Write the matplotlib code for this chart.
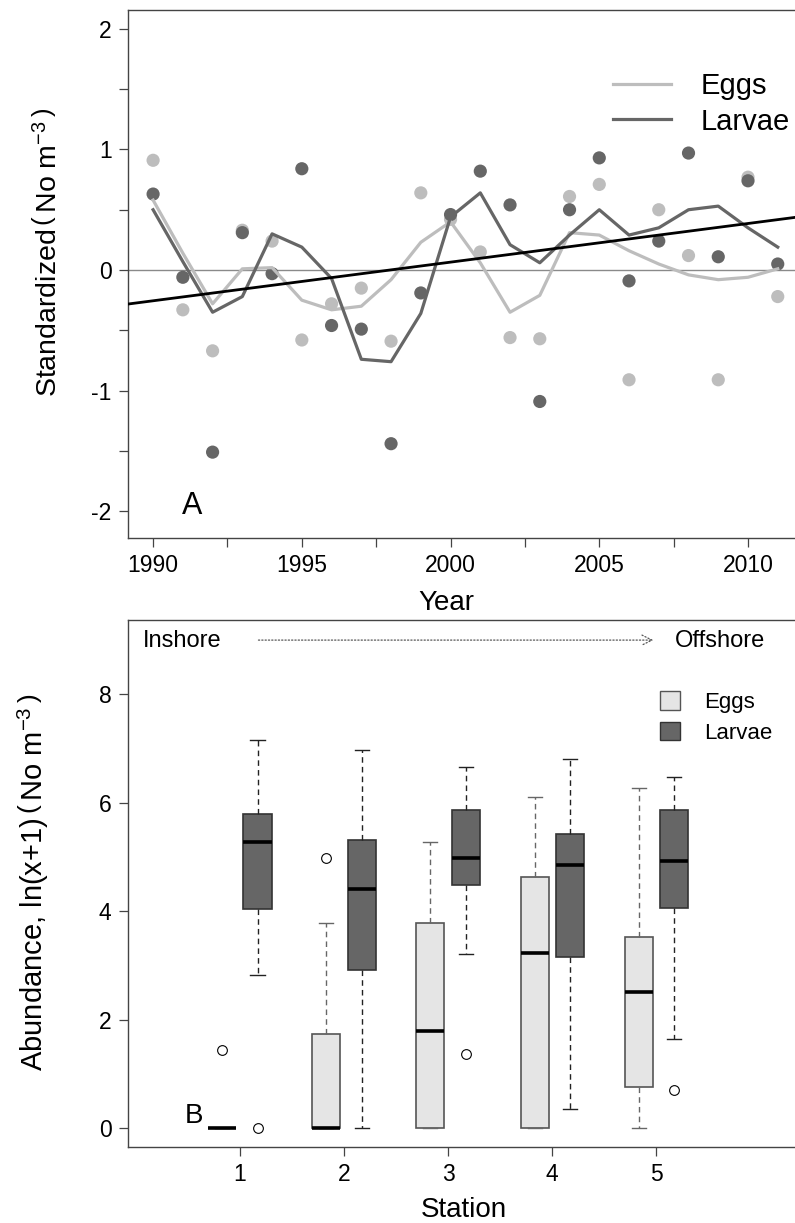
import matplotlib
matplotlib.use('Agg')
import matplotlib.pyplot as plt
from matplotlib.patches import Patch
from matplotlib.lines import Line2D

plt.rcParams['font.family'] = ['Liberation Sans', 'DejaVu Sans']
plt.rcParams['mathtext.fontset'] = 'custom'
plt.rcParams['mathtext.rm'] = 'Liberation Sans'
plt.rcParams['mathtext.it'] = 'Liberation Sans:italic'
plt.rcParams['axes.unicode_minus'] = False

# Panel A: standardized abundance per year
years = list(range(1990, 2012))
eggs_pts = [0.91, -0.33, -0.67, 0.33, 0.24, -0.58, -0.28, -0.15, -0.59, 0.64, 0.42,
            0.15, -0.56, -0.57, 0.61, 0.71, -0.91, 0.50, 0.12, -0.91, 0.77, -0.22]
larvae_pts = [0.63, -0.06, -1.51, 0.31, -0.03, 0.84, -0.46, -0.49, -1.44, -0.19, 0.46,
              0.82, 0.54, -1.09, 0.50, 0.93, -0.09, 0.24, 0.97, 0.11, 0.74, 0.05]
eggs_smooth = [0.58, 0.14, -0.28, 0.01, 0.02, -0.25, -0.33, -0.30, -0.08, 0.23, 0.40,
               0.06, -0.35, -0.21, 0.31, 0.29, 0.16, 0.05, -0.04, -0.08, -0.06, 0.01]
larvae_smooth = [0.50, 0.07, -0.35, -0.22, 0.30, 0.19, -0.07, -0.74, -0.76, -0.36, 0.44,
                 0.64, 0.21, 0.06, 0.29, 0.50, 0.29, 0.35, 0.50, 0.53, 0.35, 0.19]
trend_years = [1989, 2012]
trend_vals = [-0.287, 0.450]

# Panel B: boxplot stats per station
stations = [1, 2, 3, 4, 5]
eggs_med = [0, 0, 1.79, 3.24, 2.51]
eggs_q1 = [0, 0, 0, 0, 0.76]
eggs_q3 = [0, 1.73, 3.78, 4.64, 3.52]
eggs_lo = [0, 0, 0, 0, 0]
eggs_hi = [0, 3.78, 5.28, 6.10, 6.28]
eggs_out = [[1.45], [4.98], [], [], []]
larvae_med = [5.27, 4.41, 4.99, 4.85, 4.93]
larvae_q1 = [4.04, 2.91, 4.49, 3.15, 4.06]
larvae_q3 = [5.79, 5.32, 5.86, 5.43, 5.87]
larvae_lo = [2.83, 0.0, 3.22, 0.35, 1.65]
larvae_hi = [7.16, 6.97, 6.66, 6.80, 6.48]
larvae_out = [[0.0], [], [1.37], [], [0.70]]

light = '#bdbdbd'
dark = '#666666'
axcol = '#444444'

fig = plt.figure(figsize=(7.95, 12.23), dpi=100)
axA = fig.add_axes([0.1604, 0.5598, 0.8396, 0.4320])
axB = fig.add_axes([0.1604, 0.0619, 0.8396, 0.4311])


def style_axes(ax):
    ax.spines['right'].set_visible(False)
    for s in ['left', 'bottom', 'top']:
        ax.spines[s].set_color(axcol)
        ax.spines[s].set_linewidth(1.0)
    ax.tick_params(which='both', length=6.5, width=0.9, color=axcol,
                   labelsize=16.5, pad=5)


# ---- Panel A ----
axA.axhline(0, color='#8a8a8a', lw=1.0, zorder=1)
axA.scatter(years, eggs_pts, s=90, color=light, edgecolors='none', zorder=2)
axA.scatter(years, larvae_pts, s=90, color=dark, edgecolors='none', zorder=2)
axA.plot(years, eggs_smooth, color=light, lw=2.3, zorder=3)
axA.plot(years, larvae_smooth, color=dark, lw=2.3, zorder=3)
axA.plot(trend_years, trend_vals, color='black', lw=2.0, zorder=4)

axA.set_xlim(1989.14, 2011.58)
axA.set_ylim(-2.225, 2.156)
axA.set_xticks([1990, 1995, 2000, 2005, 2010])
axA.set_xticks([1992.5, 1997.5, 2002.5, 2007.5], minor=True)
axA.set_yticks([-2, -1, 0, 1, 2])
axA.set_yticks([-1.5, -0.5, 0.5, 1.5], minor=True)
style_axes(axA)
axA.set_xlabel('Year', fontsize=20)
axA.xaxis.set_label_coords(0.477, -0.098)
axA.xaxis.label.set_va('top')
axA.text(0.082, 0.046, 'A', transform=axA.transAxes, fontsize=22, va='baseline')

handlesA = [Line2D([], [], color=light, lw=2.3), Line2D([], [], color=dark, lw=2.3)]
axA.legend(handlesA, ['Eggs', 'Larvae'], loc='upper left', bbox_to_anchor=(0.727, 0.882),
           frameon=False, fontsize=21, handlelength=2.0, handletextpad=1.0,
           borderpad=0, borderaxespad=0, labelspacing=0.25)

fig.text(48 / 795, 1 - 252 / 1223,
         r'Standardized$\,\left(\,\mathrm{No\ m^{-3}}\,\right)$',
         rotation=90, ha='center', va='center', fontsize=20.5)

# ---- Panel B ----
off = 0.17
w = 0.27


def make_stats(med, q1, q3, lo, hi, out):
    return [dict(med=med[i], q1=q1[i], q3=q3[i], whislo=lo[i], whishi=hi[i], fliers=out[i])
            for i in range(len(med))]


for stats, shift, fill, edge, wcol in [
        (make_stats(eggs_med, eggs_q1, eggs_q3, eggs_lo, eggs_hi, eggs_out), -off, '#e5e5e5', '#555555', '#666666'),
        (make_stats(larvae_med, larvae_q1, larvae_q3, larvae_lo, larvae_hi, larvae_out), off, dark, '#333333', '#222222')]:
    axB.bxp(stats, positions=[s + shift for s in stations], widths=w, patch_artist=True,
            boxprops=dict(facecolor=fill, edgecolor=edge, linewidth=1.2),
            medianprops=dict(color='black', linewidth=2.6, solid_capstyle='butt'),
            whiskerprops=dict(color=wcol, linewidth=1.0, linestyle=(0, (4, 3))),
            capprops=dict(color=wcol, linewidth=1.0),
            flierprops=dict(marker='o', markerfacecolor='white', markeredgecolor='black',
                            markersize=7, markeredgewidth=0.8))

axB.set_xlim(-0.078, 6.33)
axB.set_ylim(-0.35, 9.37)
axB.set_xticks(stations)
axB.set_xticklabels([str(s) for s in stations])
axB.set_yticks([0, 2, 4, 6, 8])
style_axes(axB)
axB.set_xlabel('Station', fontsize=20)
axB.xaxis.set_label_coords(0.504, -0.094)
axB.xaxis.label.set_va('top')
axB.text(0.086, 0.047, 'B', transform=axB.transAxes, fontsize=20, va='baseline')

axB.text(0.023, 0.960, 'Inshore', transform=axB.transAxes, fontsize=17, va='center')
axB.text(0.820, 0.960, 'Offshore', transform=axB.transAxes, fontsize=17, va='center')
axB.annotate('', xy=(0.792, 0.962), xytext=(0.192, 0.962), xycoords='axes fraction',
             arrowprops=dict(arrowstyle='->', linestyle=':', color='#555555', lw=0.9,
                             mutation_scale=18))

handlesB = [Patch(facecolor='#e5e5e5', edgecolor='#555555'), Patch(facecolor=dark, edgecolor='#333333')]
axB.legend(handlesB, ['Eggs', 'Larvae'], loc='upper left', bbox_to_anchor=(0.798, 0.865),
           frameon=False, fontsize=16, handlelength=0.9, handleheight=0.9,
           handletextpad=1.1, borderpad=0, borderaxespad=0, labelspacing=0.4)

fig.text(33 / 795, 1 - 882 / 1223,
         r'Abundance, ln(x+1)$\,\left(\,\mathrm{No\ m^{-3}}\,\right)$',
         rotation=90, ha='center', va='center', fontsize=21)

fig.savefig('out.png', dpi=100)
